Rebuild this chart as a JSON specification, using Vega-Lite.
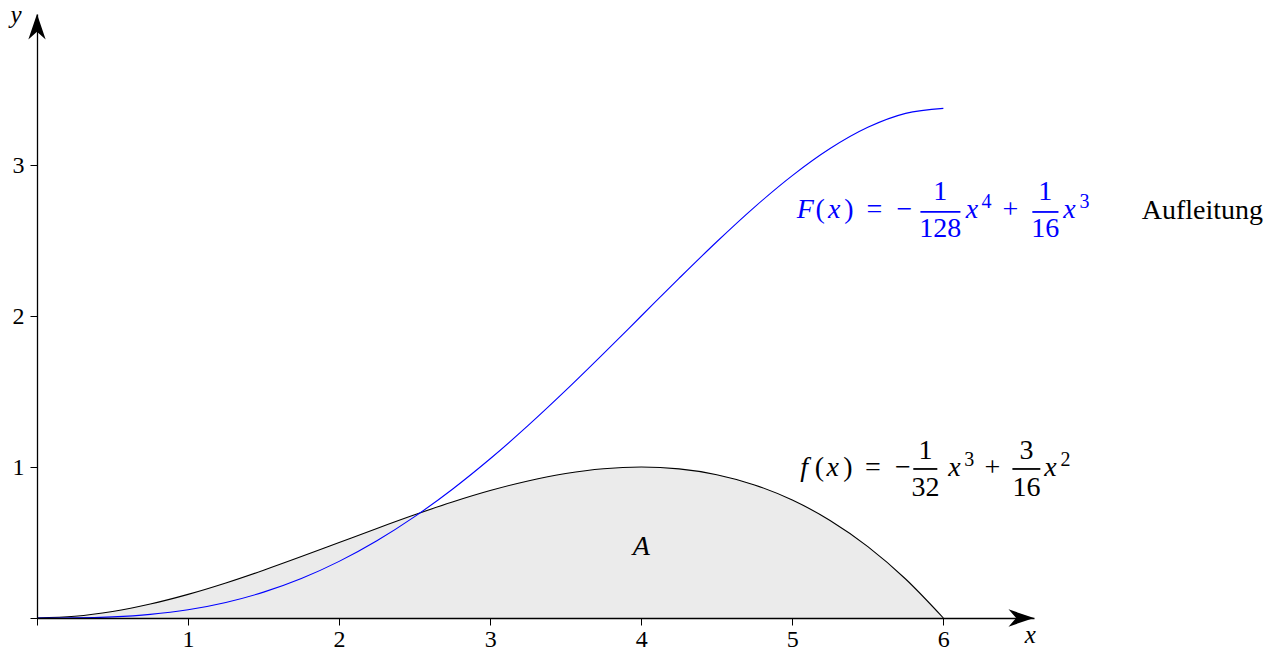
{
  "$schema": "https://vega.github.io/schema/vega-lite/v6.json",
  "width": 997,
  "height": 604,
  "autosize": {"type": "none"},
  "padding": {"left": 37, "top": 14, "right": 251, "bottom": 34},
  "background": "white",
  "config": {"view": {"stroke": null}, "font": "Liberation Serif, DejaVu Serif, serif"},
  "datasets": {
    "curves": [
      {"x": 0, "f": 0, "F": 0},
      {"x": 0.25, "f": 0.0112, "F": 0.0009},
      {"x": 0.5, "f": 0.043, "F": 0.0073},
      {"x": 0.75, "f": 0.0923, "F": 0.0239},
      {"x": 1, "f": 0.1563, "F": 0.0547},
      {"x": 1.25, "f": 0.2319, "F": 0.103},
      {"x": 1.5, "f": 0.3164, "F": 0.1714},
      {"x": 1.75, "f": 0.4067, "F": 0.2617},
      {"x": 2, "f": 0.5, "F": 0.375},
      {"x": 2.25, "f": 0.5933, "F": 0.5117},
      {"x": 2.5, "f": 0.6836, "F": 0.6714},
      {"x": 2.75, "f": 0.7681, "F": 0.853},
      {"x": 3, "f": 0.8438, "F": 1.0547},
      {"x": 3.25, "f": 0.9077, "F": 1.2739},
      {"x": 3.5, "f": 0.957, "F": 1.5073},
      {"x": 3.75, "f": 0.9888, "F": 1.7509},
      {"x": 4, "f": 1, "F": 2},
      {"x": 4.25, "f": 0.9878, "F": 2.249},
      {"x": 4.5, "f": 0.9492, "F": 2.4917},
      {"x": 4.75, "f": 0.8813, "F": 2.7212},
      {"x": 5, "f": 0.7813, "F": 2.9297},
      {"x": 5.25, "f": 0.646, "F": 3.1089},
      {"x": 5.5, "f": 0.4727, "F": 3.2495},
      {"x": 5.75, "f": 0.2583, "F": 3.3418},
      {"x": 6, "f": 0, "F": 3.375}
    ],
    "labels": [
      {"curve": "F", "part": "var", "text": "F", "x": 5.086, "y": 2.649},
      {"curve": "F", "part": "op", "text": "(", "x": 5.185, "y": 2.649},
      {"curve": "F", "part": "var", "text": "x", "x": 5.278, "y": 2.649},
      {"curve": "F", "part": "op", "text": ")", "x": 5.374, "y": 2.649},
      {"curve": "F", "part": "op", "text": "=", "x": 5.543, "y": 2.649},
      {"curve": "F", "part": "op", "text": "−", "x": 5.742, "y": 2.649},
      {"curve": "F", "part": "num", "text": "1", "x": 5.98, "y": 2.768},
      {"curve": "F", "part": "den", "text": "128", "x": 5.98, "y": 2.523},
      {"curve": "F", "part": "var", "text": "x", "x": 6.189, "y": 2.649},
      {"curve": "F", "part": "exp", "text": "4", "x": 6.285, "y": 2.715},
      {"curve": "F", "part": "op", "text": "+", "x": 6.444, "y": 2.649},
      {"curve": "F", "part": "num", "text": "1", "x": 6.675, "y": 2.768},
      {"curve": "F", "part": "den", "text": "16", "x": 6.675, "y": 2.523},
      {"curve": "F", "part": "var", "text": "x", "x": 6.834, "y": 2.649},
      {"curve": "F", "part": "exp", "text": "3", "x": 6.934, "y": 2.715},
      {"curve": "note", "part": "op", "text": "Aufleitung", "x": 7.715, "y": 2.642},
      {"curve": "f", "part": "var", "text": "f", "x": 5.079, "y": 0.94},
      {"curve": "f", "part": "op", "text": "(", "x": 5.179, "y": 0.94},
      {"curve": "f", "part": "var", "text": "x", "x": 5.268, "y": 0.94},
      {"curve": "f", "part": "op", "text": ")", "x": 5.368, "y": 0.94},
      {"curve": "f", "part": "op", "text": "=", "x": 5.533, "y": 0.94},
      {"curve": "f", "part": "op", "text": "−", "x": 5.732, "y": 0.94},
      {"curve": "f", "part": "num", "text": "1", "x": 5.881, "y": 1.053},
      {"curve": "f", "part": "den", "text": "32", "x": 5.881, "y": 0.808},
      {"curve": "f", "part": "var", "text": "x", "x": 6.073, "y": 0.94},
      {"curve": "f", "part": "exp", "text": "3", "x": 6.172, "y": 1.007},
      {"curve": "f", "part": "op", "text": "+", "x": 6.325, "y": 0.94},
      {"curve": "f", "part": "num", "text": "3", "x": 6.55, "y": 1.053},
      {"curve": "f", "part": "den", "text": "16", "x": 6.55, "y": 0.808},
      {"curve": "f", "part": "var", "text": "x", "x": 6.709, "y": 0.94},
      {"curve": "f", "part": "exp", "text": "2", "x": 6.808, "y": 1.007},
      {"curve": "region", "part": "var", "text": "A", "x": 4.0, "y": 0.417},
      {"curve": "axes", "part": "name", "text": "y", "x": -0.139, "y": 3.94},
      {"curve": "axes", "part": "name", "text": "x", "x": 6.576, "y": -0.166}
    ],
    "fractionBars": [
      {"curve": "F", "x1": 5.848, "x2": 6.113, "y": 2.689},
      {"curve": "F", "x1": 6.589, "x2": 6.762, "y": 2.689},
      {"curve": "f", "x1": 5.801, "x2": 5.96, "y": 0.987},
      {"curve": "f", "x1": 6.457, "x2": 6.642, "y": 0.987}
    ],
    "arrowTips": [
      {"axis": "x", "x": 6.6, "y": 0},
      {"axis": "y", "x": 0, "y": 4}
    ]
  },
  "layer": [
    {
      "data": {"name": "curves"},
      "mark": {"type": "area", "color": "#ebebeb", "interpolate": "monotone"},
      "encoding": {
        "x": {
          "field": "x", "type": "quantitative", "title": null,
          "scale": {"domain": [0, 6.6], "nice": false, "zero": false},
          "axis": {
            "values": [0, 1, 2, 3, 4, 5, 6], "format": "d",
            "labelExpr": "datum.value == 0 ? '' : datum.label",
            "title": null, "grid": false,
            "domainColor": "black", "domainWidth": 1.3,
            "tickColor": "black", "tickSize": 7, "tickWidth": 1,
            "labelFont": "Liberation Serif, DejaVu Serif, serif", "labelFontSize": 24, "labelColor": "black",
            "labelPadding": 2, "labelFlush": false, "labelOverlap": false, "zindex": 1
          }
        },
        "y": {
          "field": "f", "type": "quantitative", "title": null,
          "scale": {"domain": [0, 4], "nice": false},
          "axis": {
            "values": [0, 1, 2, 3], "format": "d",
            "labelExpr": "datum.value == 0 ? '' : datum.label",
            "title": null, "grid": false,
            "domainColor": "black", "domainWidth": 1.3,
            "tickColor": "black", "tickSize": 7, "tickWidth": 1,
            "labelFont": "Liberation Serif, DejaVu Serif, serif", "labelFontSize": 24, "labelColor": "black",
            "labelPadding": 6, "labelFlush": false, "labelOverlap": false, "zindex": 1
          }
        }
      }
    },
    {
      "data": {"name": "curves"},
      "mark": {"type": "line", "color": "black", "strokeWidth": 1.1, "interpolate": "monotone"},
      "encoding": {
        "x": {"field": "x", "type": "quantitative", "title": null, "scale": {"domain": [0, 6.6]}},
        "y": {"field": "f", "type": "quantitative", "title": null, "scale": {"domain": [0, 4]}}
      }
    },
    {
      "data": {"name": "curves"},
      "mark": {"type": "line", "color": "#0000ff", "strokeWidth": 1.1, "interpolate": "monotone"},
      "encoding": {
        "x": {"field": "x", "type": "quantitative", "title": null, "scale": {"domain": [0, 6.6]}},
        "y": {"field": "F", "type": "quantitative", "title": null, "scale": {"domain": [0, 4]}}
      }
    },
    {
      "data": {"name": "fractionBars"},
      "mark": {"type": "rule", "strokeWidth": 1.8},
      "encoding": {
        "x": {"field": "x1", "type": "quantitative", "title": null, "scale": {"domain": [0, 6.6]}},
        "x2": {"field": "x2"},
        "y": {"field": "y", "type": "quantitative", "title": null, "scale": {"domain": [0, 4]}},
        "color": {"field": "curve", "type": "nominal", "scale": {"domain": ["F", "f", "note", "region", "axes"], "range": ["#0000ff", "#000000", "#000000", "#000000", "#000000"]}, "legend": null}
      }
    },
    {
      "data": {"name": "labels"},
      "transform": [{"filter": "datum.part == 'var'"}],
      "mark": {"type": "text", "font": "Liberation Serif, DejaVu Serif, serif", "fontStyle": "italic", "fontSize": 28, "align": "center", "baseline": "alphabetic"},
      "encoding": {
        "x": {"field": "x", "type": "quantitative", "title": null, "scale": {"domain": [0, 6.6]}},
        "y": {"field": "y", "type": "quantitative", "title": null, "scale": {"domain": [0, 4]}},
        "text": {"field": "text"},
        "color": {"field": "curve", "type": "nominal", "scale": {"domain": ["F", "f", "note", "region", "axes"], "range": ["#0000ff", "#000000", "#000000", "#000000", "#000000"]}, "legend": null}
      }
    },
    {
      "data": {"name": "labels"},
      "transform": [{"filter": "datum.part == 'name'"}],
      "mark": {"type": "text", "font": "Liberation Serif, DejaVu Serif, serif", "fontStyle": "italic", "fontSize": 25, "align": "center", "baseline": "alphabetic"},
      "encoding": {
        "x": {"field": "x", "type": "quantitative", "title": null, "scale": {"domain": [0, 6.6]}},
        "y": {"field": "y", "type": "quantitative", "title": null, "scale": {"domain": [0, 4]}},
        "text": {"field": "text"},
        "color": {"field": "curve", "type": "nominal", "scale": {"domain": ["F", "f", "note", "region", "axes"], "range": ["#0000ff", "#000000", "#000000", "#000000", "#000000"]}, "legend": null}
      }
    },
    {
      "data": {"name": "labels"},
      "transform": [{"filter": "datum.part == 'op' || datum.part == 'num' || datum.part == 'den'"}],
      "mark": {"type": "text", "font": "Liberation Serif, DejaVu Serif, serif", "fontSize": 28, "align": "center", "baseline": "alphabetic"},
      "encoding": {
        "x": {"field": "x", "type": "quantitative", "title": null, "scale": {"domain": [0, 6.6]}},
        "y": {"field": "y", "type": "quantitative", "title": null, "scale": {"domain": [0, 4]}},
        "text": {"field": "text"},
        "color": {"field": "curve", "type": "nominal", "scale": {"domain": ["F", "f", "note", "region", "axes"], "range": ["#0000ff", "#000000", "#000000", "#000000", "#000000"]}, "legend": null}
      }
    },
    {
      "data": {"name": "labels"},
      "transform": [{"filter": "datum.part == 'exp'"}],
      "mark": {"type": "text", "font": "Liberation Serif, DejaVu Serif, serif", "fontSize": 20, "align": "center", "baseline": "alphabetic"},
      "encoding": {
        "x": {"field": "x", "type": "quantitative", "title": null, "scale": {"domain": [0, 6.6]}},
        "y": {"field": "y", "type": "quantitative", "title": null, "scale": {"domain": [0, 4]}},
        "text": {"field": "text"},
        "color": {"field": "curve", "type": "nominal", "scale": {"domain": ["F", "f", "note", "region", "axes"], "range": ["#0000ff", "#000000", "#000000", "#000000", "#000000"]}, "legend": null}
      }
    },
    {
      "data": {"name": "arrowTips"},
      "mark": {"type": "point", "filled": true, "size": 2600, "opacity": 1, "color": "black", "strokeWidth": 0},
      "encoding": {
        "x": {"field": "x", "type": "quantitative", "title": null, "scale": {"domain": [0, 6.6]}},
        "y": {"field": "y", "type": "quantitative", "title": null, "scale": {"domain": [0, 4]}},
        "shape": {
          "field": "axis", "type": "nominal", "legend": null,
          "scale": {"domain": ["x", "y"], "range": ["M0,0 L-1,-0.34 L-0.7,0 L-1,0.34 Z", "M0,0 L-0.34,1 L0,0.7 L0.34,1 Z"]}
        }
      }
    }
  ]
}
